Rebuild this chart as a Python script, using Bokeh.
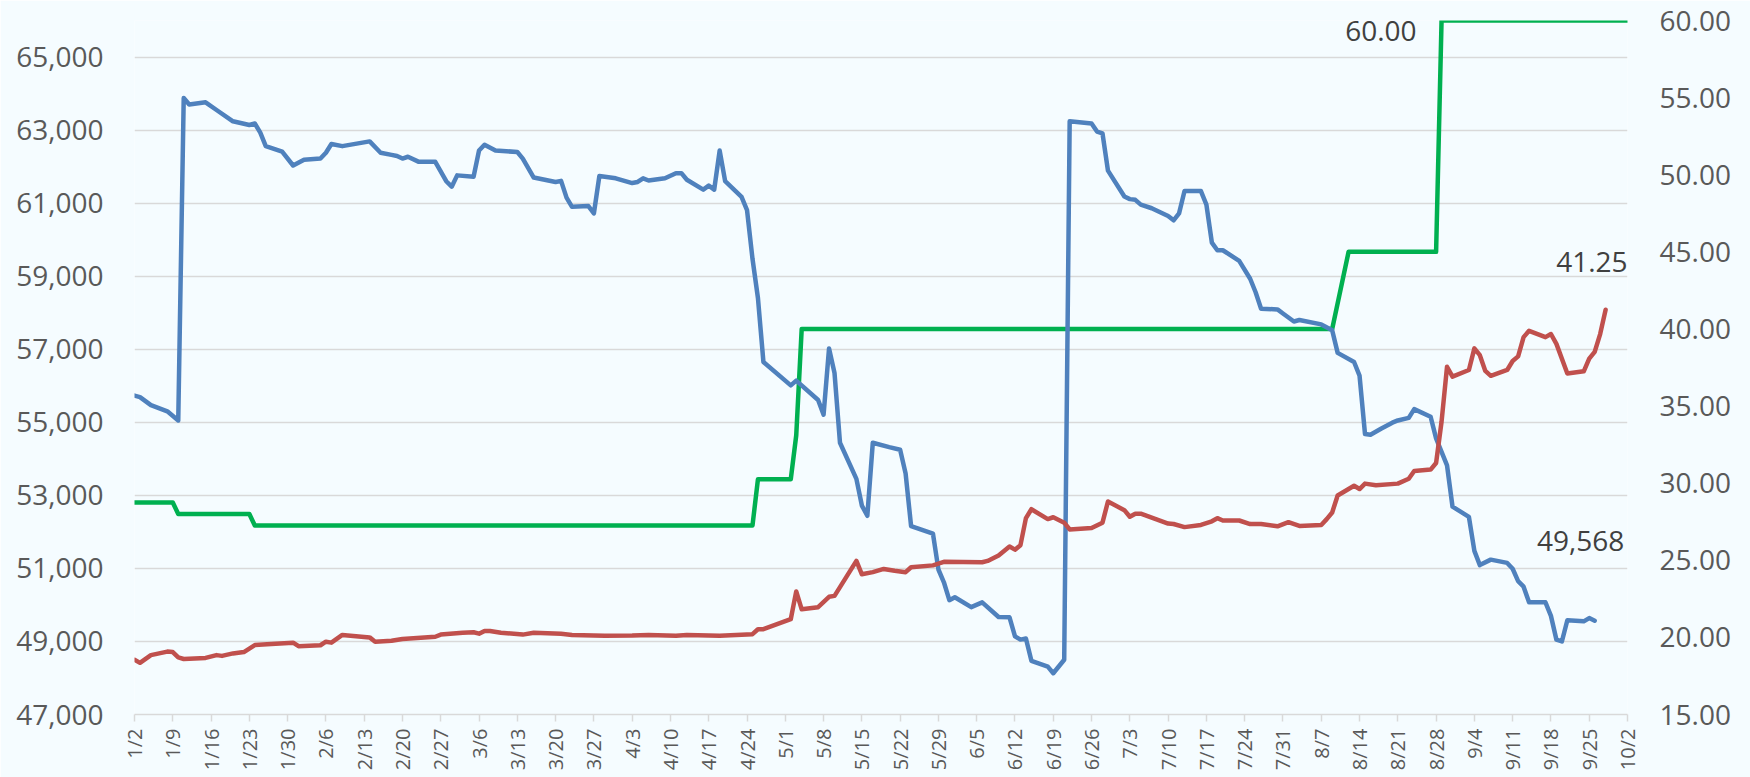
import pandas as pd
from bokeh.plotting import figure
from bokeh.models import (Range1d, LinearAxis, FixedTicker, NumeralTickFormatter,
                          CustomJSTickFormatter, ColumnDataSource, Label)
from bokeh.embed import file_html
from bokeh.resources import INLINE

YEAR = 2023

# ---------------- data ----------------
blue_dates = ["1/2", "1/3", "1/5", "1/8", "1/10", "1/11", "1/12", "1/15", "1/17", "1/20",
              "1/23", "1/24", "1/25", "1/26", "1/29", "1/31", "2/2", "2/5", "2/6", "2/7",
              "2/9", "2/14", "2/16", "2/18", "2/19", "2/20", "2/21", "2/23", "2/26", "2/28",
              "3/1", "3/2", "3/5", "3/6", "3/7", "3/9", "3/13", "3/14", "3/16", "3/20",
              "3/21", "3/22", "3/23", "3/26", "3/27", "3/28", "3/31", "4/3", "4/4", "4/5",
              "4/6", "4/9", "4/11", "4/12", "4/13", "4/16", "4/17", "4/18", "4/19", "4/20",
              "4/23", "4/24", "4/25", "4/26", "4/27", "5/2", "5/3", "5/7", "5/8", "5/9",
              "5/10", "5/11", "5/14", "5/15", "5/16", "5/17", "5/20", "5/22", "5/23", "5/24",
              "5/28", "5/29", "5/30", "5/31", "6/1", "6/4", "6/6", "6/9", "6/11", "6/12",
              "6/13", "6/14", "6/15", "6/18", "6/19", "6/21", "6/22", "6/26", "6/27", "6/28",
              "6/29", "7/2", "7/3", "7/4", "7/5", "7/7", "7/10", "7/11", "7/12", "7/13",
              "7/16", "7/17", "7/18", "7/19", "7/20", "7/23", "7/25", "7/26", "7/27", "7/30",
              "7/31", "8/2", "8/3", "8/7", "8/9", "8/10", "8/13", "8/14", "8/15", "8/16",
              "8/18", "8/20", "8/21", "8/23", "8/24", "8/27", "8/28", "8/30", "8/31", "9/3",
              "9/4", "9/5", "9/7", "9/10", "9/11", "9/12", "9/13", "9/14", "9/17", "9/18",
              "9/19", "9/20", "9/21", "9/24", "9/25", "9/26"]
blue_values = [55730, 55690, 55470, 55300, 55050, 63880, 63700, 63760, 63550, 63240,
               63140, 63180, 62930, 62560, 62410, 62030, 62190, 62220, 62380, 62620,
               62560, 62690, 62380, 62320, 62290, 62220, 62270, 62130, 62130, 61600,
               61450, 61760, 61720, 62440, 62600, 62440, 62400, 62220, 61700, 61580,
               61610, 61150, 60900, 60920, 60720, 61740, 61680, 61550, 61580, 61680,
               61620, 61680, 61820, 61820, 61640, 61370, 61480, 61370, 62440, 61600,
               61170, 60810, 59480, 58400, 56650, 56010, 56140, 55610, 55210, 57020,
               56350, 54440, 53450, 52720, 52440, 54440, 54320, 54250, 53600, 52160,
               51950, 50970, 50620, 50130, 50210, 49940, 50070, 49670, 49660, 49140,
               49050, 49080, 48470, 48310, 48130, 48500, 63240, 63180, 62960, 62910,
               61890, 61180, 61110, 61090, 60960, 60860, 60650, 60530, 60720, 61330,
               61330, 60960, 59920, 59710, 59710, 59420, 58930, 58560, 58110, 58090,
               57980, 57760, 57800, 57680, 57520, 56900, 56650, 56280, 54680, 54660,
               54830, 54990, 55050, 55120, 55360, 55150, 54560, 53820, 52690, 52410,
               51480, 51090, 51240, 51150, 50990, 50650, 50500, 50070, 50070, 49700,
               49050, 49000, 49580, 49550, 49640, 49568]

red_dates = ["1/2", "1/3", "1/5", "1/8", "1/9", "1/10", "1/11", "1/15", "1/17", "1/18",
             "1/20", "1/22", "1/24", "1/27", "1/31", "2/1", "2/5", "2/6", "2/7", "2/9",
             "2/14", "2/15", "2/18", "2/20", "2/26", "2/27", "3/3", "3/5", "3/6", "3/7",
             "3/8", "3/10", "3/14", "3/16", "3/21", "3/23", "3/29", "4/3", "4/6", "4/11",
             "4/13", "4/19", "4/25", "4/26", "4/27", "5/2", "5/3", "5/4", "5/7", "5/9",
             "5/10", "5/14", "5/15", "5/17", "5/19", "5/21", "5/23", "5/24", "5/28", "5/30",
             "6/6", "6/7", "6/9", "6/11", "6/12", "6/13", "6/14", "6/15", "6/18", "6/19",
             "6/21", "6/22", "6/26", "6/28", "6/29", "7/2", "7/3", "7/4", "7/5", "7/10",
             "7/11", "7/13", "7/16", "7/18", "7/19", "7/20", "7/23", "7/25", "7/27", "7/30",
             "8/1", "8/3", "8/7", "8/8", "8/9", "8/10", "8/13", "8/14", "8/15", "8/17",
             "8/21", "8/23", "8/24", "8/27", "8/28", "8/29", "8/30", "8/31", "9/3", "9/4",
             "9/5", "9/6", "9/7", "9/10", "9/11", "9/12", "9/13", "9/14", "9/17", "9/18",
             "9/19", "9/21", "9/24", "9/25", "9/26", "9/27", "9/28"]
red_values = [18.55, 18.35, 18.85, 19.08, 19.05, 18.70, 18.60, 18.67, 18.85, 18.80,
              18.96, 19.05, 19.50, 19.57, 19.66, 19.43, 19.49, 19.72, 19.66, 20.16,
              20.00, 19.72, 19.78, 19.90, 20.04, 20.18, 20.30, 20.33, 20.24, 20.42,
              20.42, 20.30, 20.18, 20.30, 20.24, 20.16, 20.10, 20.12, 20.16, 20.10,
              20.16, 20.10, 20.21, 20.53, 20.53, 21.18, 22.98, 21.82, 21.96, 22.63,
              22.69, 24.96, 24.09, 24.23, 24.44, 24.32, 24.23, 24.55, 24.67, 24.90,
              24.87, 24.96, 25.31, 25.89, 25.69, 25.98, 27.73, 28.31, 27.67, 27.79,
              27.44, 27.00, 27.09, 27.44, 28.81, 28.25, 27.82, 28.02, 28.02, 27.38,
              27.35, 27.15, 27.29, 27.53, 27.73, 27.58, 27.58, 27.35, 27.35, 27.20,
              27.47, 27.23, 27.29, 27.67, 28.10, 29.20, 29.83, 29.62, 29.97, 29.86,
              29.97, 30.29, 30.79, 30.88, 31.31, 33.99, 37.55, 36.91, 37.34, 38.74,
              38.30, 37.28, 36.96, 37.34, 37.92, 38.22, 39.47, 39.88, 39.47, 39.67,
              39.03, 37.11, 37.25, 38.07, 38.51, 39.67, 41.25]

green_dates = ["1/2", "1/9", "1/10", "1/23", "1/24", "4/25", "4/26", "5/2", "5/3", "5/4",
               "8/9", "8/12", "8/28", "8/29", "10/2"]
green_values = [28.75, 28.75, 28.00, 28.00, 27.25, 27.25, 30.25, 30.25, 33.10, 40.00,
                40.00, 45.00, 45.00, 60.00, 60.00]

tick_labels = ["1/2", "1/9", "1/16", "1/23", "1/30", "2/6", "2/13", "2/20", "2/27", "3/6",
               "3/13", "3/20", "3/27", "4/3", "4/10", "4/17", "4/24", "5/1", "5/8", "5/15",
               "5/22", "5/29", "6/5", "6/12", "6/19", "6/26", "7/3", "7/10", "7/17", "7/24",
               "7/31", "8/7", "8/14", "8/21", "8/28", "9/4", "9/11", "9/18", "9/25", "10/2"]
left_ticks = [47000, 49000, 51000, 53000, 55000, 57000, 59000, 61000, 63000, 65000]
right_ticks = [15, 20, 25, 30, 35, 40, 45, 50, 55, 60]

# ---------------- helpers ----------------
def to_dt(md_list):
    return pd.to_datetime([f"{YEAR}/{s}" for s in md_list], format="%Y/%m/%d")

def to_ms(md_list):
    dt = to_dt(md_list)
    return [float((d - pd.Timestamp("1970-01-01")) / pd.Timedelta(milliseconds=1)) for d in dt]

BG = "#F5FCFF"
BLUE = "#4F81BD"
RED = "#C0504D"
GREEN = "#00B050"
FONT = "Open Sans"
LW = 4.5

tick_ms = to_ms(tick_labels)

p = figure(width=1750, height=777, x_axis_type="datetime",
           x_range=Range1d(tick_ms[0], tick_ms[-1]),
           y_range=Range1d(47000, 66000),
           output_backend="svg", toolbar_location=None,
           background_fill_color=BG, border_fill_color=BG,
           outline_line_color=None,
           min_border_left=134, min_border_right=123,
           min_border_top=20, min_border_bottom=63)
p.extra_y_ranges = {"right": Range1d(15, 60)}

# grid
p.xgrid.visible = False
p.ygrid.ticker = FixedTicker(ticks=left_ticks)
p.ygrid.grid_line_color = "#D9D9D9"
p.ygrid.grid_line_width = 1.5

# x axis
xa = p.xaxis[0]
xa.ticker = FixedTicker(ticks=tick_ms)
xa.formatter = CustomJSTickFormatter(code="""
    const d = new Date(tick);
    return (d.getUTCMonth() + 1) + "/" + d.getUTCDate();
""")
xa.major_label_orientation = 3.14159265 / 2
xa.axis_line_color = "#D9D9D9"
xa.axis_line_width = 1.5
xa.major_tick_line_color = "#D9D9D9"
xa.major_tick_line_width = 1.5
xa.major_tick_out = 7
xa.major_tick_in = 0
xa.minor_tick_line_color = None
xa.major_label_standoff = 7
xa.major_label_text_font = FONT
xa.major_label_text_font_size = "20px"
xa.major_label_text_color = "#595959"

# left axis
ya = p.yaxis[0]
ya.ticker = FixedTicker(ticks=left_ticks)
ya.formatter = NumeralTickFormatter(format="0,0")
ya.axis_line_color = None
ya.major_tick_line_color = None
ya.minor_tick_line_color = None
ya.major_tick_out = 0
ya.major_tick_in = 0
ya.major_label_standoff = 31
ya.major_label_text_font = FONT
ya.major_label_text_font_size = "28px"
ya.major_label_text_color = "#595959"

# right axis
ra = LinearAxis(y_range_name="right", ticker=FixedTicker(ticks=right_ticks),
                formatter=NumeralTickFormatter(format="0.00"))
ra.axis_line_color = None
ra.major_tick_line_color = None
ra.minor_tick_line_color = None
ra.major_tick_out = 0
ra.major_tick_in = 0
ra.major_label_standoff = 32
ra.major_label_text_font = FONT
ra.major_label_text_font_size = "28px"
ra.major_label_text_color = "#595959"
p.add_layout(ra, "right")

# series
gsrc = ColumnDataSource(dict(x=to_dt(green_dates), y=green_values))
bsrc = ColumnDataSource(dict(x=to_dt(blue_dates), y=blue_values))
rsrc = ColumnDataSource(dict(x=to_dt(red_dates), y=red_values))

p.line("x", "y", source=gsrc, y_range_name="right", line_color=GREEN, line_width=LW,
       line_join="round", line_cap="round")
p.line("x", "y", source=bsrc, line_color=BLUE, line_width=LW,
       line_join="round", line_cap="round")
p.line("x", "y", source=rsrc, y_range_name="right", line_color=RED, line_width=LW,
       line_join="round", line_cap="round")

# data labels
lab = dict(text_font=FONT, text_font_size="28px", text_color="#404040",
           text_baseline="middle")
first60 = green_values.index(60.00)
p.add_layout(Label(x=to_ms([green_dates[first60]])[0], y=green_values[first60],
                   y_range_name="right", text=f"{green_values[first60]:.2f}",
                   text_align="right", x_offset=-25, y_offset=-10, **lab))
p.add_layout(Label(x=to_ms([red_dates[-1]])[0], y=red_values[-1],
                   y_range_name="right", text=f"{red_values[-1]:.2f}",
                   text_align="right", x_offset=22, y_offset=48, **lab))
p.add_layout(Label(x=to_ms([blue_dates[-1]])[0], y=blue_values[-1],
                   text=f"{blue_values[-1]:,}",
                   text_align="center", x_offset=-14, y_offset=80, **lab))

open("out.html", "w").write(file_html(p, INLINE))
